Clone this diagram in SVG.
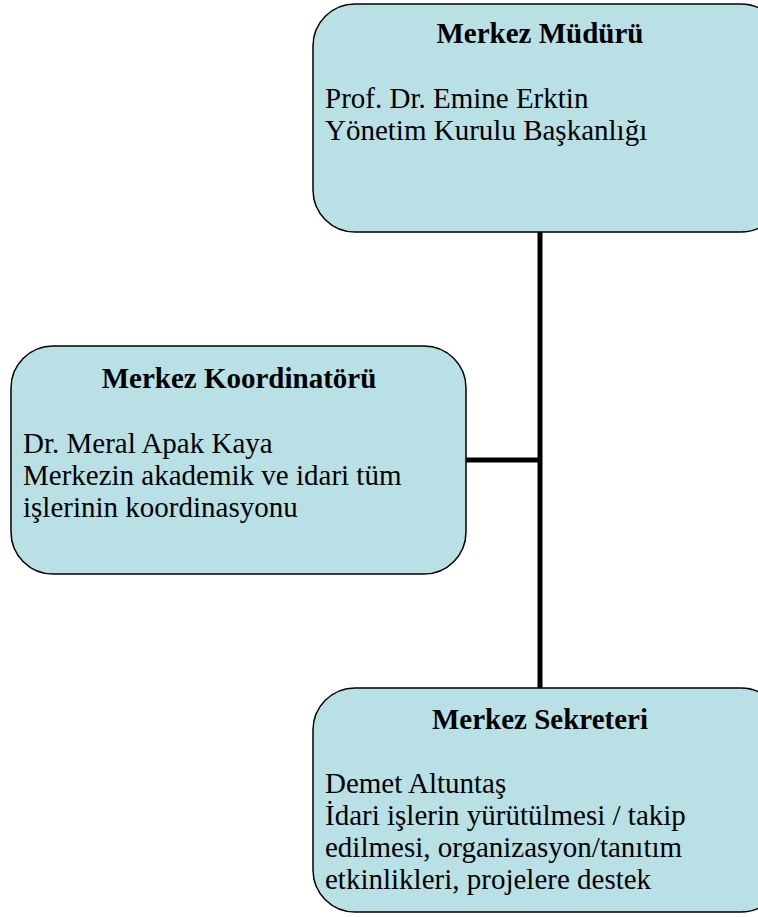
<svg xmlns="http://www.w3.org/2000/svg" width="758" height="917" viewBox="0 0 758 917">
<style>
.box{fill:#b9e0e4;stroke:#000;stroke-width:1.5}
.t{font-family:"Liberation Serif","Times New Roman",serif;font-size:29px;fill:#000}
.b{font-weight:bold;text-anchor:middle}
.c{stroke:#000;stroke-width:5;fill:none}
</style>
<rect width="758" height="917" fill="#fff"/>
<g id="connectors">
<line class="c" x1="540" y1="232" x2="540" y2="688"/>
<line class="c" x1="466" y1="460" x2="542" y2="460"/>
</g>
<g id="mudur">
<rect class="box" x="313" y="4" width="470" height="228" rx="42" ry="42"/>
<text class="t b" x="540" y="43">Merkez Müdürü</text>
<text class="t" x="325" y="108">Prof. Dr. Emine Erktin</text>
<text class="t" x="325" y="140">Yönetim Kurulu Başkanlığı</text>
</g>
<g id="koordinator">
<rect class="box" x="11" y="346" width="455" height="228" rx="42" ry="42"/>
<text class="t b" x="239" y="388">Merkez Koordinatörü</text>
<text class="t" x="23" y="453">Dr. Meral Apak Kaya</text>
<text class="t" x="23" y="485">Merkezin akademik ve idari tüm</text>
<text class="t" x="23" y="517">işlerinin koordinasyonu</text>
</g>
<g id="sekreter">
<rect class="box" x="313" y="688" width="470" height="224" rx="42" ry="42"/>
<text class="t b" x="540" y="729">Merkez Sekreteri</text>
<text class="t" x="325" y="793">Demet Altuntaş</text>
<text class="t" x="325" y="825">İdari işlerin yürütülmesi / takip</text>
<text class="t" x="325" y="857">edilmesi, organizasyon/tanıtım</text>
<text class="t" x="325" y="889">etkinlikleri, projelere destek</text>
</g>
</svg>
